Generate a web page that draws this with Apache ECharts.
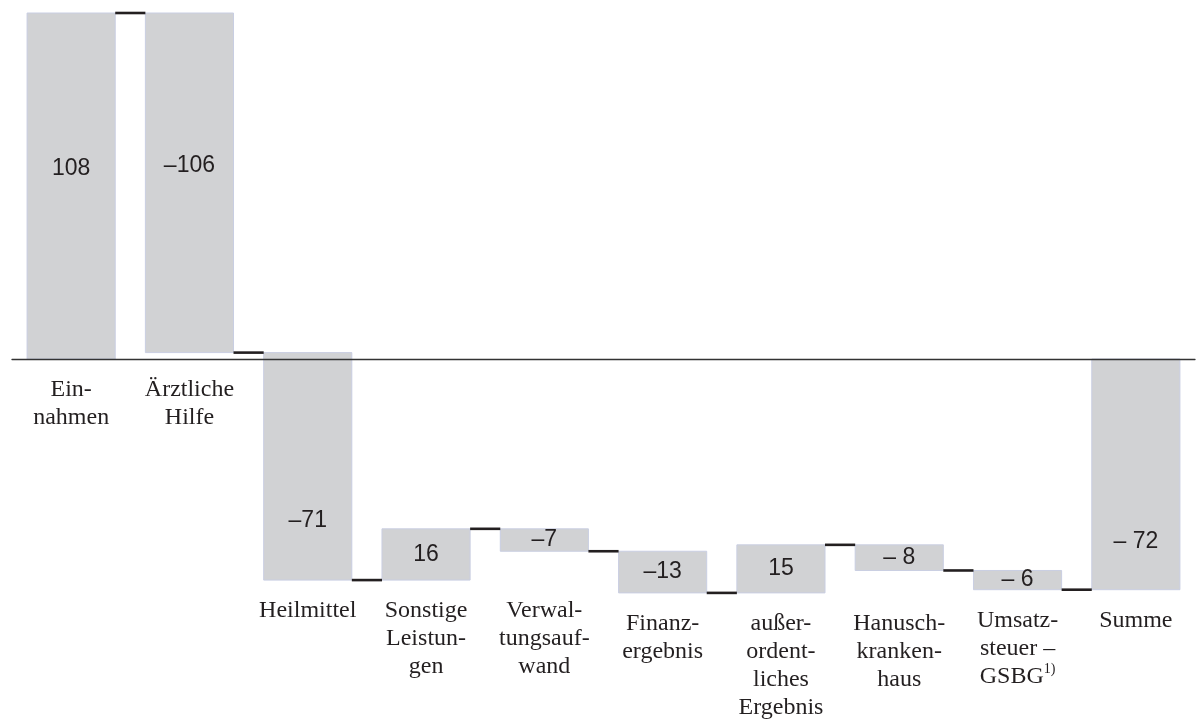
<!DOCTYPE html>
<html>
<head>
<meta charset="utf-8">
<script src="https://cdn.jsdelivr.net/npm/echarts@6/dist/echarts.min.js"></script>
<style>
  html, body { margin: 0; padding: 0; background: #ffffff; }
  #chart { width: 1199px; height: 726px; }
</style>
</head>
<body>
<div id="chart"></div>
<script>
// Positions of the result bridge (hyphenated as they are printed under the bars)
const categories = [
  'Ein-\nnahmen',
  'Ärztliche\nHilfe',
  'Heilmittel',
  'Sonstige\nLeistun-\ngen',
  'Verwal-\ntungsauf-\nwand',
  'Finanz-\nergebnis',
  'außer-\nordent-\nliches\nErgebnis',
  'Hanusch-\nkranken-\nhaus',
  'Umsatz-\nsteuer –\nGSBG{sup|1)}',
  'Summe'
];
// Change contributed by each position
const changes = [108, -106, -71, 16, -7, -13, 15, -8, -6];
// Closing total
const total = -72;
// Labels printed with a space after the minus sign
const spacedMinus = ['Hanusch-\nkranken-\nhaus', 'Umsatz-\nsteuer –\nGSBG{sup|1)}', 'Summe'];

// Waterfall rows: [index, start level, end level, value]
const rows = [];
let level = 0;
changes.forEach((v, i) => {
  rows.push([i, level, level + v, v]);
  level += v;
});
rows.push([changes.length, 0, total, total]);

const fmt = (v, name) => {
  if (v >= 0) return String(v);
  return (spacedMinus.includes(name) ? '\u2013 ' : '\u2013') + Math.abs(v);
};

const serif = '"Liberation Serif", "DejaVu Serif", serif';
const sans = '"Liberation Sans", Arial, sans-serif';
const ink = '#231f20';

function lowEdge(api, r) {
  const a = api.coord([r[0], r[1]])[1];
  const b = api.coord([r[0], r[2]])[1];
  const z = api.coord([r[0], 0])[1];
  return Math.max(a, b, z);
}

function renderItem(params, api) {
  const i = api.value(0);
  const start = api.value(1);
  const end = api.value(2);
  const v = api.value(3);
  const name = categories[i];
  const band = api.size([1, 0])[0];
  const w = band * 0.745;
  const pS = api.coord([i, start]);
  const pE = api.coord([i, end]);
  const x = pS[0] - w / 2;
  const yTop = Math.min(pS[1], pE[1]);
  const yBot = Math.max(pS[1], pE[1]);
  const children = [];

  children.push({
    type: 'rect',
    shape: { x: x, y: yTop, width: w, height: yBot - yTop },
    style: { fill: '#d1d2d4', stroke: '#c9cee2', lineWidth: 1 }
  });

  // connector to the next bar at the running level
  if (i < rows.length - 1) {
    const nx = api.coord([i + 1, 0])[0] - w / 2;
    children.push({
      type: 'line',
      shape: { x1: x + w, y1: pE[1], x2: nx, y2: pE[1] },
      style: { stroke: ink, lineWidth: 2.6 },
      z2: 5
    });
  }

  // value inside the bar (tall bars carry it lower down)
  const frac = { 0: 0.45, 1: 0.45, 2: 0.74, 9: 0.79 }[i];
  const f = frac === undefined ? 0.5 : frac;
  children.push({
    type: 'text',
    style: {
      text: fmt(v, name),
      x: pS[0],
      y: yTop + f * (yBot - yTop),
      align: 'center',
      verticalAlign: 'middle',
      font: '23px ' + sans,
      fill: ink
    },
    z2: 10
  });

  // position name below the bar (aligned with the lower neighbour on the left)
  let low = lowEdge(api, rows[i]);
  if (i > 0) low = Math.max(low, lowEdge(api, rows[i - 1]));
  children.push({
    type: 'text',
    style: {
      text: name,
      x: pS[0],
      y: low + 17,
      align: 'center',
      verticalAlign: 'top',
      fontSize: 24,
      fontFamily: serif,
      lineHeight: 28,
      fill: ink,
      rich: {
        sup: { fontSize: 14, fontFamily: serif, lineHeight: 14, verticalAlign: 'top', fill: ink }
      }
    },
    z2: 10
  });

  return { type: 'group', children: children };
}

const chart = echarts.init(document.getElementById('chart'), null, { renderer: 'canvas' });
chart.setOption({
  animation: false,
  backgroundColor: '#ffffff',
  grid: { left: 12, right: 4, top: 13, bottom: 46.6 },
  xAxis: {
    type: 'category',
    data: categories,
    z: 10,
    axisLine: { show: true, onZero: true, lineStyle: { color: '#333333', width: 1.3 } },
    axisTick: { show: false },
    axisLabel: { show: false },
    splitLine: { show: false }
  },
  yAxis: {
    type: 'value',
    min: -100,
    max: 108,
    show: false,
    splitLine: { show: false }
  },
  series: [{
    type: 'custom',
    data: rows,
    encode: { x: 0, y: [1, 2] },
    renderItem: renderItem,
    clip: false
  }]
});
</script>
</body>
</html>
